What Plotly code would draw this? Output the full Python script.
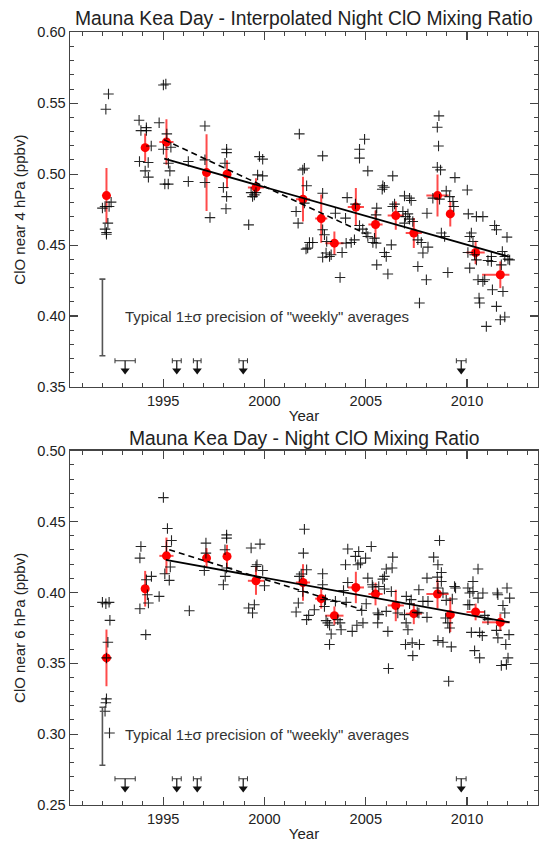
import plotly.graph_objects as go

# ---------------- data ----------------
top_cross_year = [1995.13, 1995.01, 1992.30, 1992.17, 1993.81, 1994.80, 1994.17, 1993.90, 1994.17, 1995.18,
                  1994.41, 1995.01, 1995.38, 1993.83, 1994.26, 1995.26, 1994.11, 1994.27, 1995.33, 1995.08,
                  1995.25, 1996.24, 1996.24, 1997.06, 1997.06, 1997.06, 1997.31, 1998.13, 1998.13, 1998.05,
                  1997.97, 1998.13, 1998.10, 1992.00, 1992.13, 1992.33, 1992.43, 1992.27, 1992.13, 1992.20,
                  1992.20, 2001.72, 1999.75, 1999.91, 1999.66, 1999.91, 1999.34, 1999.50, 1999.41, 1999.58,
                  1999.22, 2002.87, 2001.89, 2001.97, 2002.08, 2001.56, 2001.66, 2001.97, 2002.87, 2002.87,
                  2002.96, 2003.07, 2002.22, 2002.38, 2002.13, 2002.05, 2003.04, 2003.21, 2003.29, 2002.87,
                  2003.50, 2003.83, 2003.73, 2004.03, 2004.28, 2004.44, 2004.00, 2004.08, 2004.69, 2004.69,
                  2004.94, 2005.10, 2004.69, 2004.85, 2005.02, 2005.10, 2005.35, 2005.51, 2005.54, 2005.54,
                  2004.49, 2008.61, 2008.53, 2008.59, 2008.53, 2008.69, 2009.40, 2006.33, 2005.84, 2005.92,
                  2005.81, 2010.01, 2006.91, 2007.16, 2007.24, 2006.42, 2006.33, 2008.31, 2008.64, 2008.97,
                  2009.14, 2009.30, 2009.34, 2008.02, 2010.06, 2010.46, 2010.78, 2011.36, 2011.45, 2011.97,
                  2006.83, 2007.08, 2006.96, 2007.16, 2006.91, 2007.32, 2005.51, 2005.43, 2006.26, 2007.57,
                  2007.74, 2008.07, 2007.82, 2005.92, 2006.01, 2006.09, 2007.57, 2007.99, 2009.05, 2008.73,
                  2008.89, 2010.21, 2010.13, 2010.29, 2010.04, 2010.37, 2010.46, 2010.13, 2010.54, 2010.78,
                  2010.87, 2011.25, 2011.45, 2010.59, 2010.62, 2007.65, 2011.64, 2011.86, 2010.95, 2011.77,
                  2011.74, 2011.86, 2012.02, 2012.10, 2011.20, 2011.69, 2011.03, 2011.20]
top_cross_val = [0.5636, 0.5629, 0.5565, 0.5458, 0.5380, 0.5363, 0.5328, 0.5307, 0.5307, 0.5284,
                 0.5199, 0.5176, 0.5190, 0.5089, 0.5082, 0.5077, 0.5023, 0.4979, 0.5023, 0.4930,
                 0.4930, 0.5089, 0.4948, 0.5340, 0.5101, 0.4941, 0.4694, 0.5176, 0.5152, 0.5077,
                 0.4906, 0.4842, 0.4756, 0.4761, 0.4772, 0.4772, 0.4803, 0.4655, 0.4613, 0.4589,
                 0.4577, 0.5284, 0.5124, 0.5106, 0.4995, 0.4988, 0.4870, 0.4854, 0.4842, 0.4870,
                 0.4643, 0.5129, 0.5030, 0.5042, 0.4918, 0.4737, 0.4655, 0.4796, 0.4866, 0.4608,
                 0.4573, 0.4525, 0.4518, 0.4518, 0.4479, 0.4472, 0.4444, 0.4420, 0.4432, 0.4415,
                 0.4725, 0.4448, 0.4272, 0.4514, 0.4518, 0.4537, 0.4690, 0.4835, 0.5176, 0.5113,
                 0.5246, 0.5023, 0.4638, 0.4613, 0.4585, 0.4561, 0.4518, 0.4514, 0.4761, 0.4361,
                 0.4789, 0.5411, 0.5331, 0.5199, 0.5049, 0.5030, 0.4976, 0.4988, 0.4918, 0.4908,
                 0.4894, 0.4889, 0.4847, 0.4831, 0.4814, 0.4789, 0.4772, 0.4831, 0.4824, 0.4882,
                 0.4842, 0.4807, 0.4772, 0.4725, 0.4720, 0.4701, 0.4701, 0.4638, 0.4608, 0.4556,
                 0.4737, 0.4720, 0.4701, 0.4683, 0.4655, 0.4666, 0.4713, 0.4549, 0.4502, 0.4537,
                 0.4518, 0.4486, 0.4444, 0.4448, 0.4420, 0.4296, 0.4349, 0.4256, 0.4307, 0.4585,
                 0.4561, 0.4585, 0.4561, 0.4525, 0.4448, 0.4432, 0.4396, 0.4338, 0.4256, 0.4244,
                 0.4256, 0.4185, 0.4068, 0.4127, 0.4092, 0.4092, 0.3974, 0.3993, 0.3927, 0.4173,
                 0.4455, 0.4420, 0.4401, 0.4396, 0.4420, 0.4361, 0.4392, 0.4385]

bot_cross_year = [1995.01, 1995.21, 1995.41, 1995.16, 1995.08, 1995.30, 1995.35, 1993.90, 1993.85, 1994.42,
                  1994.17, 1994.22, 1994.27, 1993.85, 1994.80, 1994.14, 1996.29, 1997.11, 1997.11, 1997.03,
                  1998.13, 1998.13, 1998.05, 1998.13, 1998.06, 1997.97, 1992.00, 1992.17, 1992.33, 1992.37,
                  1992.27, 1992.20, 1992.20, 1992.17, 1992.13, 1992.35, 2001.97, 2001.92, 2002.08, 2001.81,
                  2001.72, 2001.67, 2001.56, 2001.89, 2002.87, 2002.87, 2003.01, 2002.96, 2002.46, 2002.18,
                  2002.08, 2003.04, 2003.12, 2003.21, 2003.29, 2003.21, 2003.50, 2003.62, 2003.73, 2003.78,
                  2004.00, 2004.11, 2004.49, 2004.65, 2004.61, 2004.74, 2004.99, 2005.27, 2003.90, 2004.03,
                  2004.33, 2004.56, 2004.86, 2004.80, 2005.02, 2005.10, 2005.32, 2005.59, 2005.59, 2004.11,
                  2008.64, 2008.35, 2008.56, 2008.73, 2008.53, 2008.73, 2008.02, 2006.33, 2006.01, 2006.30,
                  2005.92, 2005.84, 2005.35, 2005.64, 2005.92, 2006.26, 2007.00, 2007.24, 2007.16, 2007.62,
                  2007.82, 2008.07, 2005.64, 2006.01, 2006.09, 2006.58, 2006.91, 2006.99, 2007.08, 2007.54,
                  2007.62, 2008.02, 2006.96, 2007.29, 2007.65, 2007.32, 2006.12, 2008.56, 2008.81, 2008.97,
                  2009.27, 2009.43, 2009.38, 2008.94, 2009.05, 2009.14, 2008.56, 2008.81, 2009.22, 2009.09,
                  2010.04, 2010.13, 2010.29, 2010.54, 2010.29, 2010.54, 2010.78, 2010.04, 2010.13, 2010.87,
                  2011.03, 2010.62, 2010.21, 2010.37, 2010.62, 2010.75, 2011.49, 2011.52, 2011.97, 2012.10,
                  2011.77, 2011.86, 2011.45, 2011.52, 2012.07, 2011.91, 2012.02, 2011.94, 2011.69, 1999.34,
                  1999.78, 1999.22, 1999.41, 1999.50, 1999.63, 1999.58, 1999.91, 2000.00]
bot_cross_val = [0.4669, 0.4451, 0.4366, 0.4324, 0.4132, 0.4085, 0.4179, 0.4324, 0.4242, 0.4113,
                 0.4089, 0.3984, 0.3925, 0.3885, 0.3972, 0.3702, 0.3871, 0.4348, 0.4277, 0.4155,
                 0.4406, 0.4383, 0.4301, 0.4172, 0.4113, 0.4054, 0.3930, 0.3920, 0.3930, 0.3803,
                 0.3648, 0.3538, 0.3249, 0.3221, 0.3162, 0.3008, 0.4446, 0.4277, 0.4160, 0.4130,
                 0.4113, 0.3925, 0.3862, 0.4007, 0.4132, 0.4054, 0.3949, 0.3901, 0.3878, 0.3838,
                 0.3808, 0.3801, 0.3785, 0.3768, 0.3707, 0.3632, 0.3937, 0.3808, 0.3785, 0.3737,
                 0.4195, 0.4306, 0.4254, 0.4289, 0.4195, 0.4207, 0.4242, 0.4324, 0.4014, 0.3930,
                 0.3725, 0.3768, 0.3785, 0.3873, 0.3920, 0.4101, 0.4054, 0.3855, 0.3785, 0.4070,
                 0.4366, 0.4249, 0.4195, 0.4141, 0.4108, 0.4077, 0.4101, 0.4249, 0.4165, 0.4172,
                 0.4113, 0.4094, 0.4038, 0.4042, 0.4024, 0.4007, 0.3972, 0.3949, 0.3920, 0.4019,
                 0.3937, 0.3937, 0.3843, 0.3866, 0.3725, 0.3855, 0.3843, 0.3785, 0.3737, 0.3859,
                 0.3855, 0.3824, 0.3632, 0.3644, 0.3632, 0.3554, 0.3463, 0.4031, 0.3996, 0.3944,
                 0.3954, 0.4031, 0.4042, 0.3820, 0.3785, 0.3749, 0.3660, 0.3648, 0.3616, 0.3373,
                 0.4031, 0.3996, 0.4077, 0.4165, 0.4007, 0.3960, 0.3996, 0.3913, 0.3913, 0.3838,
                 0.3808, 0.3718, 0.3718, 0.3589, 0.3538, 0.3695, 0.3996, 0.3984, 0.4031, 0.3960,
                 0.3908, 0.3855, 0.3732, 0.3679, 0.3702, 0.3632, 0.3538, 0.3491, 0.3484, 0.4313,
                 0.4341, 0.3890, 0.3855, 0.3913, 0.4195, 0.4183, 0.4155, 0.4047]

# binned ("weekly"-season) averages
bin_years = [1992.20, 1994.11, 1995.16, 1997.14, 1998.15, 1999.58, 2001.90, 2002.80, 2003.45,
             2004.51, 2005.48, 2006.48, 2007.37, 2008.54, 2009.17, 2010.42, 2011.64]
bin_xerr_plus = [0.10, 0.15, 0.35, 0.12, 0.15, 0.40, 0.35, 0.30, 0.45, 0.40, 0.35, 0.40, 0.40, 0.55, 0.20, 0.45, 0.45]
bin_xerr_minus = [0.10, 0.15, 0.35, 0.12, 0.15, 0.40, 0.35, 0.30, 0.45, 0.40, 0.35, 0.40, 0.40, 0.55, 0.20, 0.45, 0.90]
top_mean = [0.4849, 0.5187, 0.5227, 0.5011, 0.5000, 0.4906, 0.4824, 0.4687, 0.4514,
            0.4768, 0.4645, 0.4708, 0.4585, 0.4849, 0.4720, 0.4448, 0.4291]
top_err = [0.0195, 0.0099, 0.0160, 0.0270, 0.0099, 0.0065, 0.0158, 0.0170, 0.0082,
           0.0134, 0.0099, 0.0099, 0.0106, 0.0148, 0.0088, 0.0082, 0.0094]
bot_mean = [0.3538, 0.4026, 0.4258, 0.4242, 0.4254, 0.4082, 0.4070, 0.3956, 0.3836,
            0.4035, 0.3989, 0.3908, 0.3850, 0.3989, 0.3843, 0.3862, 0.3789]
bot_err = [0.0200, 0.0126, 0.0129, 0.0070, 0.0082, 0.0099, 0.0129, 0.0070, 0.0065,
           0.0111, 0.0080, 0.0111, 0.0074, 0.0103, 0.0123, 0.0059, 0.0059]

# trend fits
top_fit_years = [1995.05, 2012.02]
top_fit_vals = [0.5110, 0.4420]
top_fit2_years = [1995.05, 2005.00]
top_fit2_vals = [0.5242, 0.4580]
bot_fit_years = [1995.13, 2012.10]
bot_fit_vals = [0.4230, 0.3789]
bot_fit2_years = [1995.30, 2004.80]
bot_fit2_vals = [0.4301, 0.3880]

# data gaps (down arrows)
gap_years = [1993.12, 1995.67, 1996.68, 1998.95, 2009.71]
gap_half = [0.50, 0.22, 0.19, 0.21, 0.24]

# typical precision bars
prec_year = 1992.0
top_prec_center, top_prec_half = 0.399, 0.027
bot_prec_center, bot_prec_half = 0.2985, 0.0205

titles = ["Mauna Kea Day - Interpolated Night ClO Mixing Ratio", "Mauna Kea Day - Night ClO Mixing Ratio"]
ytitles = ["ClO near 4 hPa (ppbv)", "ClO near 6 hPa (ppbv)"]
note_text = 'Typical 1\u00b1\u03c3 precision of "weekly" averages'
x_ticks = [1995, 2000, 2005, 2010]

# ---------------- figure ----------------
FONT = "Liberation Sans, Helvetica, Arial, sans-serif"
W, H = 540, 844
ML, MR, MT, MB = 70, 2, 32, 39
AREA_H = H - MT - MB


def pfrac(py):
    return (H - MB - py) / AREA_H


fig = go.Figure()

panels = [
    dict(xa="x", ya="y", cx=top_cross_year, cy=top_cross_val, m=top_mean, e=top_err,
         f1=(top_fit_years, top_fit_vals), f2=(top_fit2_years, top_fit2_vals),
         pc=top_prec_center, ph=top_prec_half, lvl=0.3685, yr=[0.35, 0.60], note_y=0.40),
    dict(xa="x2", ya="y2", cx=bot_cross_year, cy=bot_cross_val, m=bot_mean, e=bot_err,
         f1=(bot_fit_years, bot_fit_vals), f2=(bot_fit2_years, bot_fit2_vals),
         pc=bot_prec_center, ph=bot_prec_half, lvl=0.2685, yr=[0.25, 0.50], note_y=0.30),
]

RED_BAR = "rgba(255,30,30,0.8)"
for p in panels:
    # red binned averages
    fig.add_trace(go.Scatter(
        x=bin_years, y=p["m"], mode="markers", xaxis=p["xa"], yaxis=p["ya"],
        marker=dict(color="#ff0000", size=9, line=dict(width=0)),
        error_y=dict(type="data", array=p["e"], color=RED_BAR, thickness=2, width=0),
        error_x=dict(type="data", symmetric=False, array=bin_xerr_plus, arrayminus=bin_xerr_minus,
                     color=RED_BAR, thickness=2, width=0),
        showlegend=False, hoverinfo="skip"))
    # individual weekly points
    fig.add_trace(go.Scatter(
        x=p["cx"], y=p["cy"], mode="markers", xaxis=p["xa"], yaxis=p["ya"],
        marker=dict(symbol="cross-thin", size=7.5, line=dict(width=1.1, color="rgba(0,0,0,0.85)")),
        showlegend=False, hoverinfo="skip"))
    # fits
    fig.add_trace(go.Scatter(x=p["f2"][0], y=p["f2"][1], mode="lines", xaxis=p["xa"], yaxis=p["ya"],
                             line=dict(color="black", width=1.6, dash="6px,4px"), showlegend=False))
    fig.add_trace(go.Scatter(x=p["f1"][0], y=p["f1"][1], mode="lines", xaxis=p["xa"], yaxis=p["ya"],
                             line=dict(color="black", width=1.8), showlegend=False))
    # precision bar
    fig.add_trace(go.Scatter(
        x=[prec_year], y=[p["pc"]], mode="markers", xaxis=p["xa"], yaxis=p["ya"],
        marker=dict(color="rgba(0,0,0,0)", size=1),
        error_y=dict(type="data", array=[p["ph"]], color="#555555", thickness=1.6, width=3),
        showlegend=False, hoverinfo="skip"))
    # gap brackets
    lvl = p["lvl"]
    fig.add_trace(go.Scatter(
        x=gap_years, y=[lvl] * len(gap_years), mode="markers", xaxis=p["xa"], yaxis=p["ya"],
        marker=dict(color="rgba(0,0,0,0)", size=1),
        error_x=dict(type="data", array=gap_half, color="#333333", thickness=1, width=2.5),
        showlegend=False, hoverinfo="skip"))
    sx, sy = [], []
    for g in gap_years:
        sx += [g, g, None]
        sy += [lvl, lvl - 0.0065, None]
    fig.add_trace(go.Scatter(x=sx, y=sy, mode="lines", xaxis=p["xa"], yaxis=p["ya"],
                             line=dict(color="#111111", width=1.2), showlegend=False, hoverinfo="skip"))
    fig.add_trace(go.Scatter(
        x=gap_years, y=[lvl - 0.0068] * len(gap_years), mode="markers", xaxis=p["xa"], yaxis=p["ya"],
        marker=dict(symbol="triangle-down", size=8, color="#111111", line=dict(width=0)),
        showlegend=False, hoverinfo="skip"))

AX_COL = "#444444"
TXT_COL = "#222222"


def xaxis_cfg(anchor):
    return dict(
        anchor=anchor, domain=[0, 1], range=[1990.4, 2013.5],
        tickmode="array", tickvals=x_ticks, ticktext=[str(t) for t in x_ticks],
        ticks="inside", ticklen=8, tickwidth=1.2, tickcolor=AX_COL,
        minor=dict(dtick=1, tick0=1990, ticks="inside", ticklen=4, tickwidth=1, tickcolor=AX_COL),
        showline=True, linecolor=AX_COL, linewidth=1.4, mirror="ticks",
        showgrid=False, zeroline=False,
        tickfont=dict(family=FONT, size=14.6, color=TXT_COL),
        title=dict(text="Year", font=dict(family=FONT, size=15, color=TXT_COL), standoff=2),
        automargin=False)


def yaxis_cfg(anchor, dom, rng, title):
    return dict(
        anchor=anchor, domain=dom, range=rng,
        tick0=rng[0], dtick=0.05, tickformat=".2f",
        ticks="inside", ticklen=8, tickwidth=1.2, tickcolor=AX_COL,
        minor=dict(dtick=0.01, ticks="inside", ticklen=4, tickwidth=1, tickcolor=AX_COL),
        showline=True, linecolor=AX_COL, linewidth=1.4, mirror="ticks",
        showgrid=False, zeroline=False,
        tickfont=dict(family=FONT, size=14.6, color=TXT_COL),
        title=dict(text=title, font=dict(family=FONT, size=15, color=TXT_COL), standoff=8),
        automargin=False)


fig.update_layout(
    width=W, height=H, template="none",
    margin=dict(l=ML, r=MR, t=MT, b=MB, pad=0),
    paper_bgcolor="white", plot_bgcolor="white",
    font=dict(family=FONT, color=TXT_COL),
    showlegend=False,
    xaxis=xaxis_cfg("y"),
    yaxis=yaxis_cfg("x", [pfrac(387), pfrac(32.3)], panels[0]["yr"], ytitles[0]),
    xaxis2=xaxis_cfg("y2"),
    yaxis2=yaxis_cfg("x2", [pfrac(805), pfrac(450.7)], panels[1]["yr"], ytitles[1]),
)

annotations = [
    dict(text=titles[0], xref="paper", yref="paper", x=0.5, y=pfrac(18.5), xanchor="center",
         yanchor="middle", showarrow=False, font=dict(family=FONT, size=19.3, color=TXT_COL)),
    dict(text=titles[1], xref="paper", yref="paper", x=0.5, y=pfrac(438), xanchor="center",
         yanchor="middle", showarrow=False, font=dict(family=FONT, size=19.3, color=TXT_COL)),
    dict(text=note_text, xref="x", yref="y", x=1993.0, y=panels[0]["note_y"], xanchor="left",
         yanchor="middle", showarrow=False, font=dict(family=FONT, size=15, color="#333333")),
    dict(text=note_text, xref="x2", yref="y2", x=1993.0, y=panels[1]["note_y"], xanchor="left",
         yanchor="middle", showarrow=False, font=dict(family=FONT, size=15, color="#333333")),
]
fig.update_layout(annotations=annotations)

fig.write_html(
    "out.html",
    config={"displayModeBar": False, "staticPlot": True},
    post_script="document.body.style.margin='0';document.body.style.overflow='hidden';",
)
